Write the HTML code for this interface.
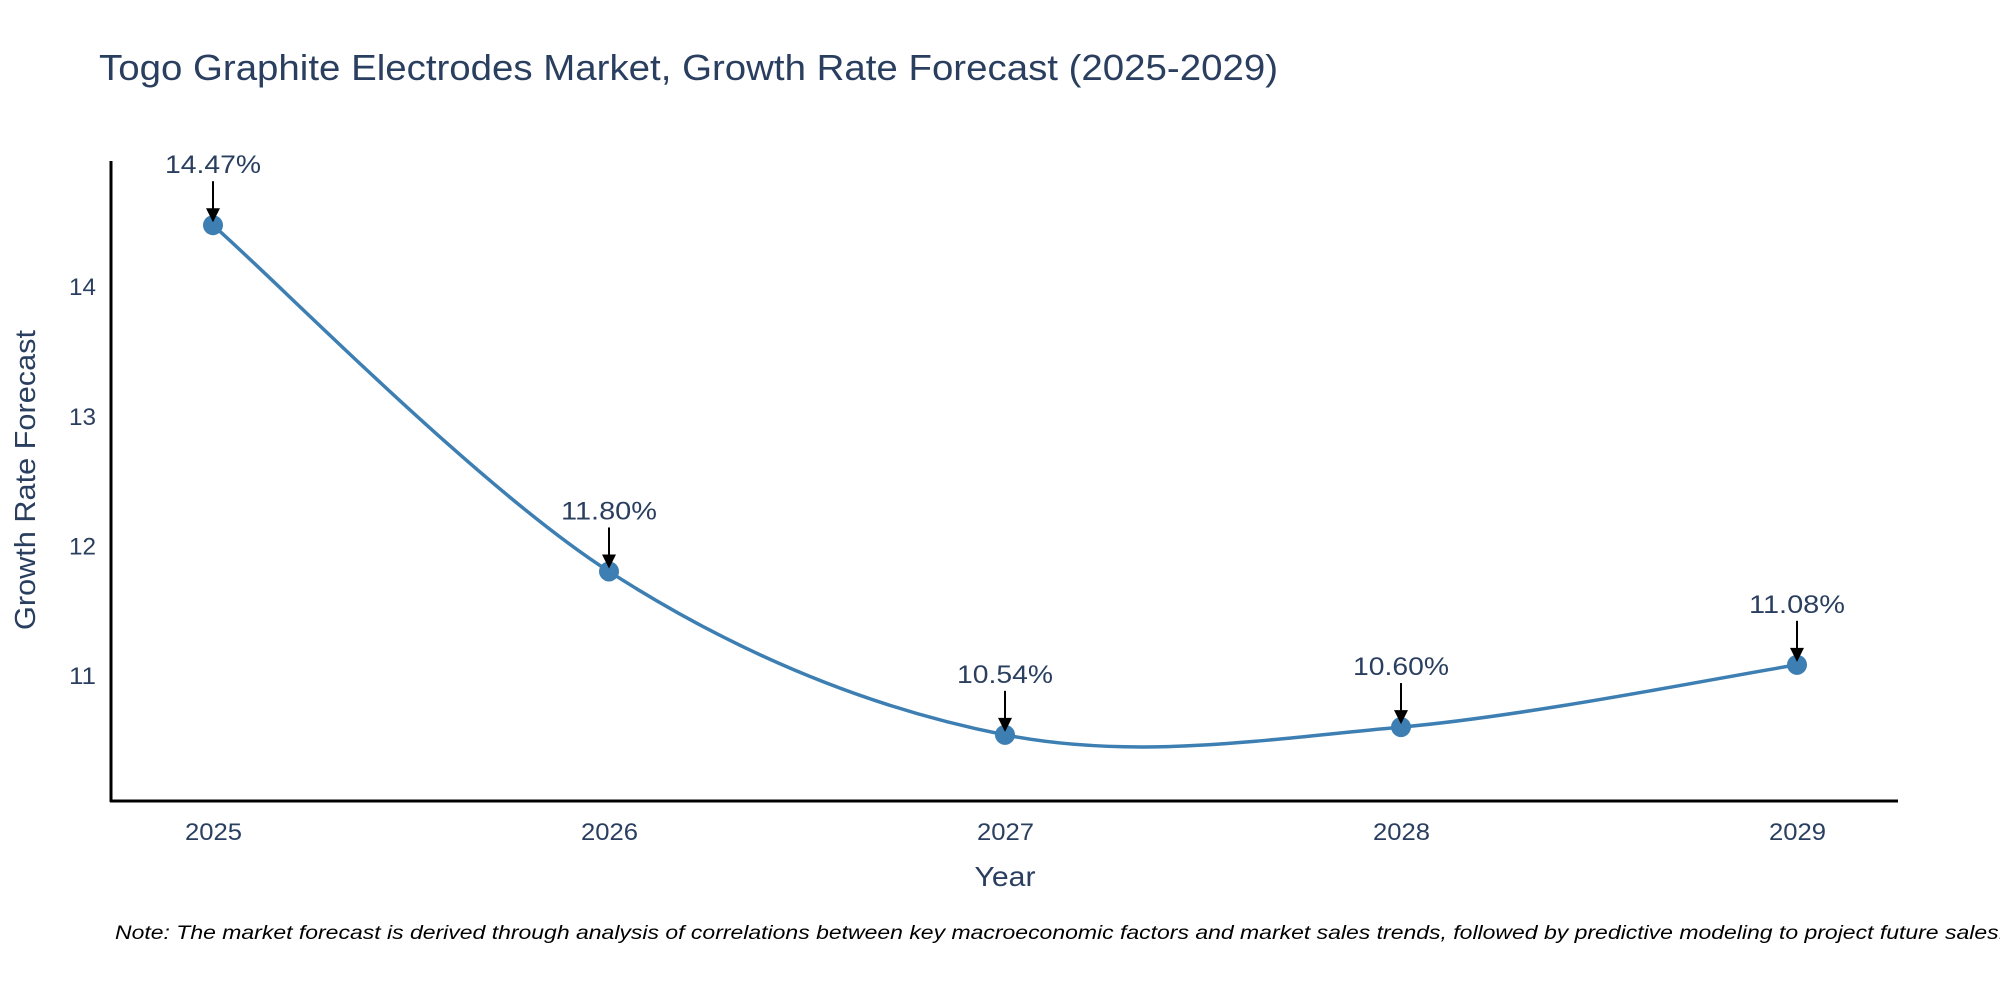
<!DOCTYPE html>
<html><head><meta charset="utf-8"><style>
body{margin:0;background:#fff;}
svg text{font-family:"Liberation Sans",sans-serif;}
</style></head><body>
<svg id="chart" width="2000" height="1000" viewBox="0 0 2000 1000" xmlns="http://www.w3.org/2000/svg">
<rect width="2000" height="1000" fill="#fff"/>
<text x="99" y="80" font-size="36" fill="#2a3f5f" textLength="1179" lengthAdjust="spacingAndGlyphs">Togo Graphite Electrodes Market, Growth Rate Forecast (2025-2029)</text>
<g id="plot"></g>
<text x="1005" y="886" font-size="28" fill="#2a3f5f" text-anchor="middle" textLength="61" lengthAdjust="spacingAndGlyphs">Year</text>
<text transform="translate(35,480) rotate(-90)" font-size="29" fill="#2a3f5f" text-anchor="middle" textLength="300" lengthAdjust="spacingAndGlyphs">Growth Rate Forecast</text>
<text x="115" y="939" font-size="19" font-style="italic" fill="#000" textLength="1890" lengthAdjust="spacingAndGlyphs">Note: The market forecast is derived through analysis of correlations between key macroeconomic factors and market sales trends, followed by predictive modeling to project future sales.</text>
</svg>
<script>
const years = ["2025","2026","2027","2028","2029"];
const values = [14.47, 11.80, 10.54, 10.60, 11.08];
const valueLabels = ["14.47%","11.80%","10.54%","10.60%","11.08%"];
const yTicks = [11, 12, 13, 14];

const NS = "http://www.w3.org/2000/svg";
const g = document.getElementById('plot');
const X0 = 111, X1 = 1898, Y0 = 801, Y1 = 161;
const xFirst = 213, xLast = 1797;
function xs(i){ return xFirst + (xLast - xFirst) * i / (years.length - 1); }
const yMin = 10.03, yMax = 14.965;
function ys(v){ return Y0 - (v - yMin) / (yMax - yMin) * (Y0 - Y1); }
function mk(tag, attrs){ const e = document.createElementNS(NS, tag); for (const k in attrs) e.setAttribute(k, attrs[k]); g.appendChild(e); return e; }

let ax = mk('line', {x1:X0, y1:Y1, x2:X0, y2:Y0+1, stroke:'#000', 'stroke-width':3});


ax = mk('line', {x1:X0-1, y1:Y0, x2:X1, y2:Y0, stroke:'#000', 'stroke-width':3});



yTicks.forEach(t => {
  const e = mk('text', {x:X0-15, y:ys(t)+9, 'font-size':24, fill:'#2a3f5f', 'text-anchor':'end', textLength:27, lengthAdjust:'spacingAndGlyphs'});
  e.textContent = t;
  
  
});
years.forEach((yr, i) => {
  const e = mk('text', {x:xs(i)-28, y:Y0+39, 'font-size':24, fill:'#2a3f5f', textLength:57, lengthAdjust:'spacingAndGlyphs'});
  e.textContent = yr;
  
  
});

const pts = values.map((v, i) => [xs(i), ys(v)]);
let d = `M${pts[0][0]},${pts[0][1]}`;
for (let i = 0; i < pts.length - 1; i++) {
  const p0 = pts[Math.max(0, i-1)], p1 = pts[i], p2 = pts[i+1], p3 = pts[Math.min(pts.length-1, i+2)];
  const t = 1/6;
  const c1 = [p1[0] + (p2[0]-p0[0])*t, p1[1] + (p2[1]-p0[1])*t];
  const c2 = [p2[0] - (p3[0]-p1[0])*t, p2[1] - (p3[1]-p1[1])*t];
  d += ` C${c1[0]},${c1[1]} ${c2[0]},${c2[1]} ${p2[0]},${p2[1]}`;
}
const line = mk('path', {d:d, fill:'none', stroke:'#3d7fb2', 'stroke-width':3.5});



values.forEach((v, i) => {
  const cx = xs(i), cy = ys(v);
  const c = mk('circle', {cx:cx, cy:cy, r:10, fill:'#3d7fb2'});
  
  
  const a = mk('line', {x1:cx, y1:cy-44, x2:cx, y2:cy-14, stroke:'#000', 'stroke-width':2});
  
  
  const h = mk('path', {d:`M${cx-7},${cy-17} L${cx+7},${cy-17} L${cx},${cy-3} Z`, fill:'#000'});
  
  
  const tx = mk('text', {x:cx-48, y:cy-52, 'font-size':25, fill:'#2a3f5f', textLength:96, lengthAdjust:'spacingAndGlyphs'});
  tx.textContent = valueLabels[i];
  
  
});
</script>
</body></html>
